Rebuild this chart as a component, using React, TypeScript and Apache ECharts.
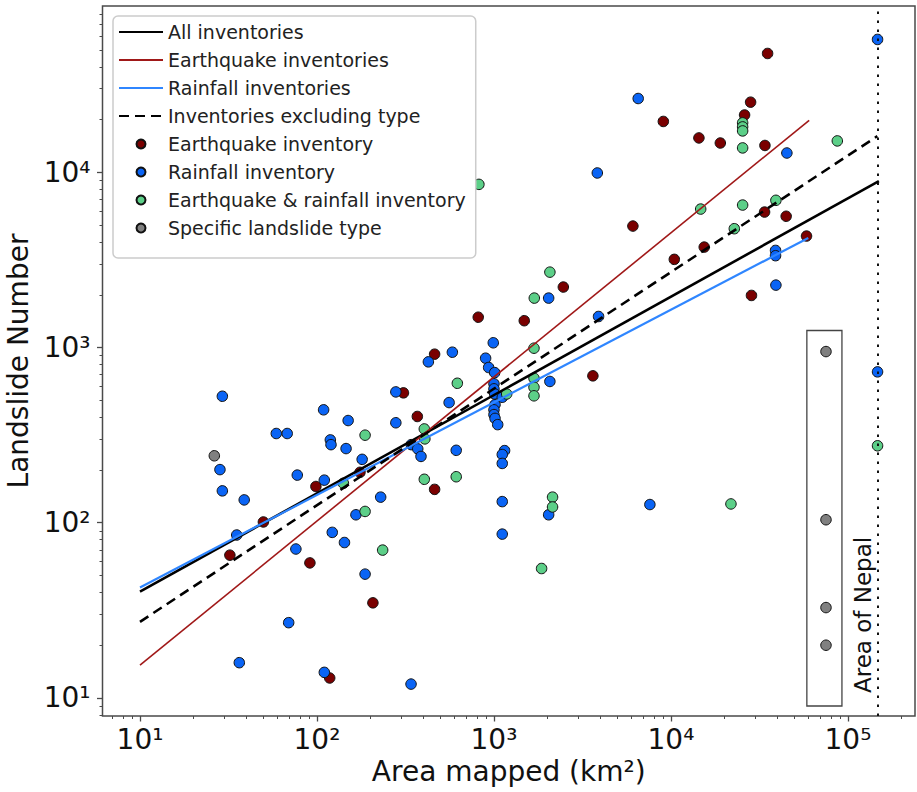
import React, { useEffect, useRef } from 'react';
import * as echarts from 'echarts';

// ---------------- data ----------------
const nepalArea = 147181; // km²

// Earthquake inventories
const eqX = [6095, 35156, 28184, 26062, 9057, 14388, 19011, 33963, 33806, 44771, 58345, 15417, 10447, 28510, 2466, 815, 1483, 462, 3622, 308, 369, 462, 207, 175, 98.6, 49.8, 32.2, 91.2, 118];
const eqY = [4932, 47643, 25119, 21232, 19498, 15704, 14689, 14223, 5929, 5610, 4325, 3741, 3184, 1982, 2213, 1489, 1422, 916, 689, 551, 404, 155, 34.9, 194, 161, 101, 65.3, 59.0, 13.0];

// Rainfall inventories
const rainX = [147000, 6531, 3837, 45186, 38994, 38994, 39174, 147000, 7603, 2037, 3899, 991, 426, 582, 897, 933, 1009, 2070, 1000, 1000, 1009, 1114, 1014, 1000, 1000, 1014, 1050, 279, 558, 279, 341, 371, 387, 612, 1148, 1114, 1114, 229, 1114, 2037, 1114, 340, 29.2, 109, 150, 58.9, 67.9, 119, 120, 146, 180, 28.3, 77.4, 110, 29.2, 38.8, 166, 35.2, 122, 143, 76.0, 187, 69.2, 36.4, 110];
const rainY = [57280, 26363, 9908, 12882, 3581, 3342, 2270, 726, 127, 1914, 1503, 1064, 828, 940, 869, 769, 719, 640, 621, 581, 543, 520, 472, 441, 414, 394, 363, 558, 485, 372, 279, 264, 239, 259, 258, 245, 218, 140, 132, 111, 86.1, 12.0, 527, 441, 383, 323, 323, 297, 279, 265, 230, 201, 187, 175, 152, 135, 111, 85.1, 88.1, 77.1, 70.8, 50.9, 26.9, 15.9, 14.0];

// Earthquake & rainfall inventories
const bothX = [822, 25410, 25410, 25410, 25410, 87096, 14723, 25410, 39174, 22803, 147000, 21827, 2070, 1690, 1683, 1683, 1683, 1683, 621, 1180, 404, 407, 404, 612, 2143, 2143, 235, 1858, 187, 141, 187];
const bothY = [8531, 19143, 18155, 17219, 13772, 15101, 6166, 6501, 6918, 4764, 275, 128, 2692, 1914, 991, 668, 593, 530, 625, 543, 343, 301, 177, 183, 140, 123, 69.8, 54.8, 316, 168, 116];

// Specific landslide type
const typeX = [26.3, 75162, 75162, 75162, 75162];
const typeY = [241, 948, 104, 32.8, 20.0];

// Box around the specific-type inventories
const boxX = [58600, 92500];
const boxY = [9.0, 1250];

// Fitted power-law lines (end points)
const allFitX = [10, 149600];
const allFitY = [40.4, 8900];
const eqFitX = [10, 60400];
const eqFitY = [15.4, 19800];
const rainFitX = [10, 59700];
const rainFitY = [42.7, 4220];
const exclFitX = [10, 146600];
const exclFitY = [27.2, 16070];

// Axes
const xLimits = [6.14, 239300];
const yLimits = [7.89, 88900];
const xMajor = [10, 100, 1000, 10000, 100000];
const yMajor = [10, 100, 1000, 10000];
const minorMultipliers = [2, 3, 4, 5, 6, 7, 8, 9];
const decades = [1, 10, 100, 1000, 10000, 100000];

const lineNames = ['All inventories', 'Earthquake inventories', 'Rainfall inventories', 'Inventories excluding type'];
const pointNames = ['Earthquake inventory', 'Rainfall inventory', 'Earthquake & rainfall inventory', 'Specific landslide type'];

// ---------------- helpers ----------------
const lg = (v: number) => Math.log10(v);
const pts = (xs: number[], ys: number[]) => xs.map((x, i) => [lg(x), lg(ys[i])]);
const minorTicks = (lim: number[]) => {
  const out: number[] = [];
  decades.forEach((d) =>
    minorMultipliers.forEach((m) => {
      const v = d * m;
      if (v >= lim[0] && v <= lim[1]) out.push(lg(v));
    })
  );
  return out;
};
const SUP = ['⁰', '¹', '²', '³', '⁴', '⁵', '⁶', '⁷', '⁸', '⁹'];
const powLabel = (v: number) => '10' + SUP[Math.round(v)];

const FONT = 'DejaVu Sans';
const AXIS_COLOR = '#4a4a4a';

export default function App() {
  const ref = useRef<HTMLDivElement>(null);

  useEffect(() => {
    if (!ref.current) return;
    const chart = echarts.init(ref.current, undefined, { renderer: 'svg' });

    const xmin = lg(xLimits[0]);
    const xmax = lg(xLimits[1]);
    const ymin = lg(yLimits[0]);
    const ymax = lg(yLimits[1]);

    const scatterBase = {
      type: 'scatter',
      symbol: 'circle',
      symbolSize: 10.5,
      z: 3,
      emphasis: { disabled: true },
    };
    const lineBase = {
      type: 'line',
      symbol: 'none',
      showSymbol: false,
      z: 5,
      emphasis: { disabled: true },
    };

    const option: any = {
      animation: false,
      backgroundColor: '#ffffff',
      grid: {
        left: 102.5,
        right: 2,
        top: 6,
        bottom: 76,
        show: true,
        borderColor: AXIS_COLOR,
        borderWidth: 1.5,
        backgroundColor: 'transparent',
        containLabel: false,
        outerBoundsMode: 'none',
      },
      xAxis: [
        {
          type: 'value',
          min: xmin,
          max: xmax,
          name: 'Area mapped (km²)',
          nameLocation: 'middle',
          nameGap: 40,
          nameTextStyle: { fontFamily: FONT, fontSize: 28, color: '#111' },
          axisLine: { show: false },
          splitLine: { show: false },
          axisTick: {
            show: true,
            customValues: xMajor.map(lg),
            length: 5.5,
            lineStyle: { color: AXIS_COLOR, width: 1.3 },
          },
          axisLabel: {
            customValues: xMajor.map(lg),
            formatter: powLabel,
            margin: 9,
            fontFamily: FONT,
            fontSize: 28,
            color: '#111',
          },
        },
        {
          type: 'value',
          min: xmin,
          max: xmax,
          position: 'bottom',
          axisLine: { show: false },
          splitLine: { show: false },
          axisTick: {
            show: true,
            customValues: minorTicks(xLimits),
            length: 3,
            lineStyle: { color: AXIS_COLOR, width: 1 },
          },
          axisLabel: { show: false },
        },
      ],
      yAxis: [
        {
          type: 'value',
          min: ymin,
          max: ymax,
          name: 'Landslide Number',
          nameLocation: 'middle',
          nameGap: 58,
          nameTextStyle: { fontFamily: FONT, fontSize: 28, color: '#111' },
          axisLine: { show: false },
          splitLine: { show: false },
          axisTick: {
            show: true,
            customValues: yMajor.map(lg),
            length: 5.5,
            lineStyle: { color: AXIS_COLOR, width: 1.3 },
          },
          axisLabel: {
            customValues: yMajor.map(lg),
            formatter: powLabel,
            margin: 12,
            fontFamily: FONT,
            fontSize: 28,
            color: '#111',
          },
        },
        {
          type: 'value',
          min: ymin,
          max: ymax,
          position: 'left',
          axisLine: { show: false },
          splitLine: { show: false },
          axisTick: {
            show: true,
            customValues: minorTicks(yLimits),
            length: 3,
            lineStyle: { color: AXIS_COLOR, width: 1 },
          },
          axisLabel: { show: false },
        },
      ],
      legend: {
        data: [
          ...lineNames.map((name) => ({ name, itemStyle: { opacity: 0 } })),
          ...pointNames.map((name) => ({ name })),
        ],
        orient: 'vertical',
        left: 113,
        top: 16,
        padding: [6, 10, 20, 5],
        itemWidth: 44,
        itemHeight: 9,
        itemGap: 8,
        backgroundColor: '#ffffff',
        borderColor: '#cccccc',
        borderWidth: 1.5,
        borderRadius: 5,
        selectedMode: false,
        textStyle: { fontFamily: FONT, fontSize: 19, color: '#222', lineHeight: 20 },
      },
      series: [
        {
          ...scatterBase,
          name: pointNames[0],
          data: pts(eqX, eqY),
          itemStyle: { color: '#7a0000', borderColor: '#111', borderWidth: 1, opacity: 1 },
        },
        {
          ...scatterBase,
          name: pointNames[1],
          data: pts(rainX, rainY),
          itemStyle: { color: '#0a64f5', borderColor: '#111', borderWidth: 1, opacity: 1 },
        },
        {
          ...scatterBase,
          name: pointNames[2],
          data: pts(bothX, bothY),
          itemStyle: { color: '#5ccf88', borderColor: '#111', borderWidth: 1, opacity: 1 },
        },
        {
          ...scatterBase,
          name: pointNames[3],
          data: pts(typeX, typeY),
          itemStyle: { color: '#808080', borderColor: '#111', borderWidth: 1, opacity: 1 },
          markArea: {
            silent: true,
            label: { show: false },
            itemStyle: { color: 'rgba(0,0,0,0)', borderColor: '#444', borderWidth: 1.3 },
            data: [[{ coord: [lg(boxX[0]), lg(boxY[0])] }, { coord: [lg(boxX[1]), lg(boxY[1])] }]],
          },
          markLine: {
            silent: true,
            symbol: ['none', 'none'],
            label: { show: false },
            lineStyle: { color: '#111', type: [2.5, 6.5], width: 2 },
            data: [{ xAxis: lg(nepalArea) }],
          },
        },
        {
          ...lineBase,
          name: lineNames[0],
          data: pts(allFitX, allFitY),
          lineStyle: { color: '#000000', width: 2.6 },
          itemStyle: { color: '#000000' },
        },
        {
          ...lineBase,
          name: lineNames[1],
          data: pts(eqFitX, eqFitY),
          lineStyle: { color: '#a01818', width: 1.6 },
          itemStyle: { color: '#a01818' },
        },
        {
          ...lineBase,
          name: lineNames[2],
          data: pts(rainFitX, rainFitY),
          lineStyle: { color: '#2f86ff', width: 2.2 },
          itemStyle: { color: '#2f86ff' },
        },
        {
          ...lineBase,
          name: lineNames[3],
          data: pts(exclFitX, exclFitY),
          lineStyle: { color: '#000000', width: 2.6, type: [10, 6] },
          itemStyle: { color: '#000000' },
        },
      ],
    };

    chart.setOption(option);

    const p = chart.convertToPixel({ gridIndex: 0 }, [lg(nepalArea), ymin]) as number[];
    if (p) {
      chart.setOption({
        graphic: [
          {
            type: 'text',
            x: p[0] - 3,
            y: p[1] - 23,
            rotation: Math.PI / 2,
            silent: true,
            style: {
              text: 'Area of Nepal',
              fontFamily: FONT,
              fontSize: 23,
              fill: '#111',
              align: 'left',
              verticalAlign: 'bottom',
            },
          },
        ],
      });
    }

    return () => chart.dispose();
  }, []);

  return (
    <div
      ref={ref}
      style={{ position: 'fixed', left: 0, top: 0, width: 917, height: 792, background: '#fff' }}
    />
  );
}
